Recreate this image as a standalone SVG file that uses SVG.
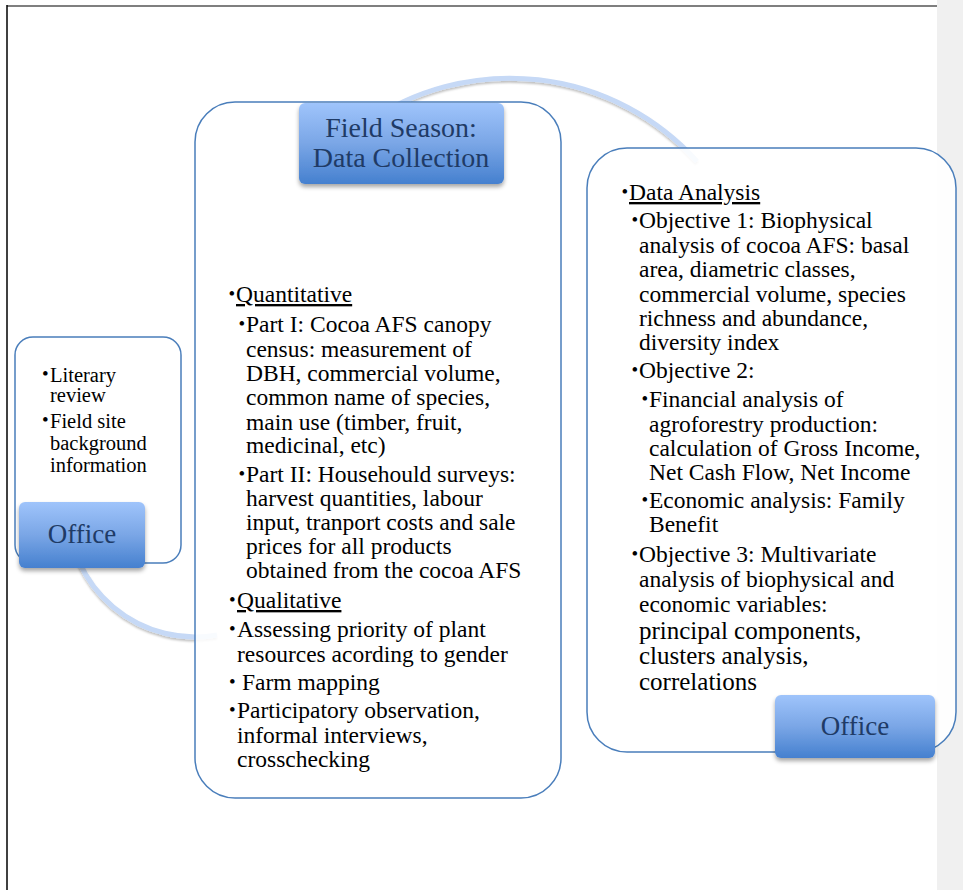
<svg xmlns="http://www.w3.org/2000/svg" width="963" height="890" viewBox="0 0 963 890">
<defs>
<style>
.t{font-family:"Liberation Serif","Times New Roman",serif;font-size:23.5px;fill:#000}
.s{font-size:20.5px}
.l{font-size:25px}
.u{text-decoration:underline}
.b{font-family:"Liberation Serif","Times New Roman",serif;font-size:19px;fill:#000}
.box{fill:#fff;fill-opacity:0.88;stroke:#4a7ebb;stroke-width:1.5}
.tab{fill:url(#tg);filter:url(#sh)}
.tt{font-family:"Liberation Serif","Times New Roman",serif;font-size:27px;fill:#1f3b66;text-anchor:middle}
.arc{fill:none;stroke:#c6d9f6;stroke-width:5;filter:url(#ash)}
</style>
<linearGradient id="tg" x1="0" y1="0" x2="0" y2="1">
<stop offset="0" stop-color="#9fc4fb"/>
<stop offset="0.5" stop-color="#7aa6e6"/>
<stop offset="1" stop-color="#4580cf"/>
</linearGradient>
<filter id="sh" x="-10%" y="-10%" width="120%" height="130%">
<feDropShadow dx="0" dy="3" stdDeviation="2" flood-color="#000" flood-opacity="0.35"/>
</filter>
<filter id="ash" x="-10%" y="-10%" width="120%" height="130%">
<feDropShadow dx="0" dy="2" stdDeviation="1.2" flood-color="#000" flood-opacity="0.25"/>
</filter>
</defs>
<rect x="0" y="0" width="963" height="890" fill="#fff"/>
<rect x="937" y="0" width="26" height="890" fill="#f0f0f0"/>
<line x1="7" y1="6" x2="937" y2="6" stroke="#7f7f7f" stroke-width="2"/>
<line x1="7" y1="5" x2="7" y2="890" stroke="#000" stroke-width="1.5"/>

<g id="connectors">
<path class="arc" d="M 68 510 A 127 127 0 0 0 217 635"/>
<path class="arc" d="M 365.5 123.6 A 252 252 0 0 1 697 161.4"/>
</g>

<g id="office-left">
<rect class="box" x="15" y="337" width="166" height="226" rx="18"/>
<text class="b" x="42" y="380">•</text>
<text class="t s" x="50" y="382">Literary</text>
<text class="t s" x="50" y="402">review</text>
<text class="b" x="42" y="426">•</text>
<text class="t s" x="50" y="428">Field site</text>
<text class="t s" x="50" y="450">background</text>
<text class="t s" x="50" y="472">information</text>
<rect class="tab" x="19" y="502" width="126" height="66" rx="6"/>
<text class="tt" x="82" y="543">Office</text>
</g>

<g id="field-season">
<rect class="box" x="195" y="102" width="366" height="696" rx="40"/>
<rect class="tab" x="299" y="103" width="205" height="81" rx="6"/>
<text class="tt" x="401" y="137" style="font-size:28px">Field Season:</text>
<text class="tt" x="401" y="167" style="font-size:28px">Data Collection</text>
<text class="b" x="228.5" y="300">•</text>
<text class="t u" x="236" y="302">Quantitative</text>
<text class="b" x="238.5" y="330">•</text>
<text class="t" x="246" y="332">Part I: Cocoa AFS canopy</text>
<text class="t" x="246" y="357">census: measurement of</text>
<text class="t" x="246" y="381">DBH, commercial volume,</text>
<text class="t" x="246" y="405">common name of species,</text>
<text class="t" x="246" y="429.5">main use (timber, fruit,</text>
<text class="t" x="246" y="453">medicinal, etc)</text>
<text class="b" x="238.5" y="480">•</text>
<text class="t" x="246" y="482">Part II: Househould surveys:</text>
<text class="t" x="246" y="506">harvest quantities, labour</text>
<text class="t" x="246" y="530">input, tranport costs and sale</text>
<text class="t" x="246" y="554">prices for all products</text>
<text class="t" x="246" y="578">obtained from the cocoa AFS</text>
<text class="b" x="229" y="606">•</text>
<text class="t u" x="237" y="608">Qualitative</text>
<text class="b" x="229" y="635">•</text>
<text class="t" x="237" y="637">Assessing priority of plant</text>
<text class="t" x="237" y="662">resources acording to gender</text>
<text class="b" x="229" y="688">•</text>
<text class="t" x="242" y="690">Farm mapping</text>
<text class="b" x="229" y="716">•</text>
<text class="t" x="237" y="718">Participatory observation,</text>
<text class="t" x="237" y="743">informal interviews,</text>
<text class="t" x="237" y="767">crosschecking</text>
</g>

<g id="office-right">
<rect class="box" x="587" y="148" width="369" height="604" rx="40"/>
<text class="b" x="621.5" y="198">•</text>
<text class="t u" x="629" y="200">Data Analysis</text>
<text class="b" x="631.5" y="226">•</text>
<text class="t" x="639" y="228">Objective 1: Biophysical</text>
<text class="t" x="639" y="253">analysis of cocoa AFS: basal</text>
<text class="t" x="639" y="277">area, diametric classes,</text>
<text class="t" x="639" y="302">commercial volume, species</text>
<text class="t" x="639" y="326">richness and abundance,</text>
<text class="t" x="639" y="350">diversity index</text>
<text class="b" x="631.5" y="376">•</text>
<text class="t" x="639" y="378">Objective 2:</text>
<text class="b" x="641.5" y="405">•</text>
<text class="t" x="649" y="407">Financial analysis of</text>
<text class="t" x="649" y="432">agroforestry production:</text>
<text class="t" x="649" y="456">calculation of Gross Income,</text>
<text class="t" x="649" y="480">Net Cash Flow, Net Income</text>
<text class="b" x="641.5" y="506">•</text>
<text class="t" x="649" y="508">Economic analysis: Family</text>
<text class="t" x="649" y="532">Benefit</text>
<text class="b" x="631.5" y="560">•</text>
<text class="t" x="639" y="562">Objective 3: Multivariate</text>
<text class="t" x="639" y="587">analysis of biophysical and</text>
<text class="t" x="639" y="612">economic variables:</text>
<text class="t l" x="639" y="639">principal components,</text>
<text class="t l" x="639" y="664">clusters analysis,</text>
<text class="t l" x="639" y="690">correlations</text>
<rect class="tab" x="775" y="695" width="160" height="63" rx="6"/>
<text class="tt" x="855" y="735">Office</text>
</g>
</svg>
